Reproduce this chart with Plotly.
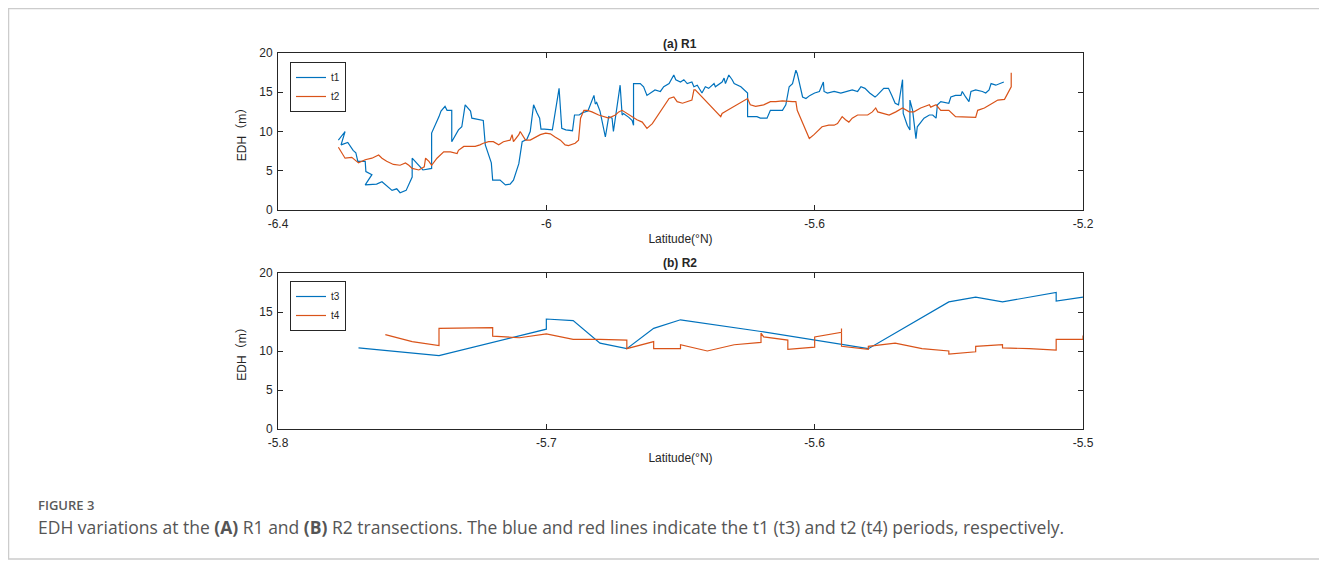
import plotly.graph_objects as go

# ---------------- data ----------------
# (a) R1 transect, t1 period
lat_t1 = [-6.310, -6.303, -6.300, -6.306, -6.296, -6.288, -6.284, -6.281, -6.270, -6.269,
          -6.260, -6.270, -6.253, -6.245, -6.238, -6.230, -6.223, -6.218, -6.209, -6.200,
          -6.200, -6.190, -6.184, -6.171, -6.171, -6.160, -6.157, -6.151, -6.148, -6.141,
          -6.141, -6.131, -6.126, -6.121, -6.113, -6.111, -6.100, -6.094, -6.091, -6.082,
          -6.080, -6.069, -6.061, -6.054, -6.049, -6.041, -6.036, -6.029, -6.024, -6.021,
          -6.019, -6.014, -6.010, -6.008, -6.003, -5.991, -5.981, -5.977, -5.971, -5.961,
          -5.958, -5.951, -5.946, -5.938, -5.929, -5.927, -5.925, -5.920, -5.912, -5.907,
          -5.902, -5.900, -5.890, -5.887, -5.885, -5.877, -5.872, -5.870, -5.870, -5.860,
          -5.855, -5.850, -5.845, -5.838, -5.830, -5.825, -5.817, -5.810, -5.807, -5.800,
          -5.795, -5.790, -5.783, -5.780, -5.775, -5.768, -5.763, -5.758, -5.750, -5.748,
          -5.738, -5.735, -5.733, -5.728, -5.723, -5.720, -5.710, -5.703, -5.700, -5.700,
          -5.686, -5.681, -5.671, -5.666, -5.648, -5.643, -5.638, -5.633, -5.628, -5.626,
          -5.618, -5.613, -5.607, -5.600, -5.593, -5.587, -5.586, -5.581, -5.571, -5.561,
          -5.551, -5.544, -5.536, -5.531, -5.525, -5.518, -5.510, -5.507, -5.497, -5.490,
          -5.485, -5.480, -5.475, -5.469, -5.468, -5.462, -5.458, -5.458, -5.454, -5.449,
          -5.447, -5.437, -5.429, -5.424, -5.419, -5.417, -5.412, -5.400, -5.397, -5.390,
          -5.382, -5.380, -5.375, -5.370, -5.367, -5.360, -5.350, -5.345, -5.340, -5.337,
          -5.330, -5.325, -5.318]
edh_t1 = [8.9, 9.6, 10.0, 8.3, 8.6, 7.6, 7.3, 6.2, 6.2, 4.9,
          4.5, 3.2, 3.3, 3.6, 3.1, 2.5, 2.7, 2.2, 2.5, 4.2,
          6.6, 5.7, 5.1, 5.3, 9.8, 11.9, 12.6, 13.2, 12.7, 12.7,
          8.7, 10.2, 10.6, 13.4, 12.6, 11.7, 11.5, 11.4, 8.3, 6.0,
          3.8, 3.8, 3.2, 3.3, 3.8, 5.9, 8.7, 9.0, 10.0, 12.1,
          13.4, 12.4, 11.7, 10.3, 10.3, 10.2, 15.5, 10.4, 10.2, 10.1,
          12.1, 12.1, 12.4, 12.6, 14.6, 13.5, 13.7, 12.6, 9.3, 11.9,
          11.7, 10.0, 15.9, 12.1, 12.3, 11.8, 11.4, 10.8, 16.1, 16.1,
          15.7, 14.6, 14.9, 15.3, 15.1, 15.7, 16.1, 17.2, 16.6, 16.3,
          16.6, 16.1, 16.3, 15.7, 15.9, 14.9, 15.7, 15.5, 16.1, 15.7,
          16.3, 16.8, 16.1, 17.2, 16.6, 16.1, 15.7, 15.1, 14.9, 11.9,
          11.9, 11.7, 11.7, 12.7, 12.7, 13.4, 15.7, 16.1, 17.8, 17.4,
          14.4, 14.2, 14.6, 14.9, 15.1, 16.3, 15.1, 14.9, 15.1, 14.9,
          15.1, 15.3, 15.1, 15.7, 15.5, 14.9, 14.4, 14.6, 15.5, 15.5,
          14.6, 13.6, 13.4, 16.6, 12.3, 10.8, 10.2, 14.0, 12.7, 9.1,
          10.6, 11.7, 12.1, 12.1, 11.7, 13.4, 13.8, 13.6, 14.4, 14.6,
          14.6, 15.1, 14.4, 13.8, 15.1, 15.3, 15.1, 14.9, 15.3, 16.1,
          15.9, 16.1, 16.3]

# (a) R1 transect, t2 period
lat_t2 = [-6.310, -6.305, -6.300, -6.290, -6.285, -6.280, -6.270, -6.260, -6.250, -6.245,
          -6.238, -6.228, -6.218, -6.210, -6.205, -6.200, -6.190, -6.182, -6.180, -6.175,
          -6.171, -6.163, -6.153, -6.143, -6.133, -6.131, -6.123, -6.116, -6.106, -6.099,
          -6.094, -6.086, -6.079, -6.071, -6.064, -6.054, -6.051, -6.049, -6.041, -6.039,
          -6.036, -6.031, -6.024, -6.016, -6.009, -6.001, -5.994, -5.987, -5.979, -5.972,
          -5.967, -5.957, -5.952, -5.949, -5.944, -5.939, -5.932, -5.922, -5.914, -5.907,
          -5.897, -5.892, -5.887, -5.872, -5.865, -5.857, -5.850, -5.842, -5.835, -5.827,
          -5.822, -5.817, -5.810, -5.805, -5.797, -5.790, -5.783, -5.780, -5.778, -5.740,
          -5.738, -5.730, -5.715, -5.700, -5.696, -5.688, -5.676, -5.666, -5.658, -5.648,
          -5.633, -5.628, -5.626, -5.608, -5.601, -5.589, -5.579, -5.571, -5.566, -5.559,
          -5.554, -5.549, -5.544, -5.536, -5.529, -5.521, -5.514, -5.509, -5.506, -5.499,
          -5.489, -5.479, -5.469, -5.459, -5.452, -5.442, -5.429, -5.427, -5.419, -5.412,
          -5.400, -5.390, -5.360, -5.357, -5.347, -5.335, -5.327, -5.317, -5.312, -5.307,
          -5.307]
edh_t2 = [8.0, 7.3, 6.6, 6.7, 6.4, 6.0, 6.4, 6.6, 7.0, 6.6,
          6.2, 5.8, 5.7, 6.0, 5.7, 5.3, 5.1, 5.5, 6.6, 6.2,
          5.7, 6.6, 7.4, 7.4, 7.2, 7.6, 8.1, 8.1, 8.1, 8.3,
          8.5, 8.7, 8.7, 8.3, 8.7, 8.9, 9.6, 8.7, 9.6, 10.0,
          9.6, 8.9, 8.9, 9.3, 9.6, 9.8, 9.7, 9.3, 8.9, 8.3,
          8.2, 8.5, 8.9, 11.7, 12.7, 12.7, 12.5, 12.1, 11.9, 11.7,
          12.1, 12.5, 12.7, 11.9, 11.5, 11.2, 10.4, 11.0, 11.9, 13.0,
          13.6, 14.2, 14.4, 13.8, 13.6, 13.8, 14.0, 15.3, 15.3, 11.9,
          12.3, 12.7, 13.4, 14.2, 13.4, 13.2, 13.4, 13.8, 13.8, 13.9,
          13.8, 13.8, 12.7, 9.1, 9.6, 10.6, 10.8, 10.8, 11.0, 11.9,
          11.5, 11.2, 11.7, 12.1, 12.1, 12.1, 12.5, 13.0, 12.5, 12.3,
          12.1, 12.5, 13.0, 12.5, 12.5, 13.0, 13.4, 13.1, 13.4, 12.7,
          12.7, 11.9, 11.8, 12.7, 13.0, 13.6, 14.0, 14.1, 14.9, 15.7,
          17.5]

# (b) R2 transect, t3 period
lat_t3 = [-5.770, -5.740, -5.700, -5.700, -5.690, -5.680, -5.670, -5.660, -5.650, -5.620,
          -5.580, -5.550, -5.540, -5.530, -5.510, -5.510, -5.500]
edh_t3 = [10.4, 9.4, 12.8, 14.1, 13.9, 11.0, 10.3, 12.9, 14.0, 12.5,
          10.3, 16.3, 16.9, 16.3, 17.5, 16.4, 16.9]

# (b) R2 transect, t4 period
lat_t4 = [-5.760, -5.750, -5.740, -5.740, -5.720, -5.720, -5.710, -5.700, -5.690, -5.680,
          -5.670, -5.670, -5.660, -5.660, -5.650, -5.650, -5.640, -5.630, -5.620, -5.620,
          -5.619, -5.610, -5.610, -5.600, -5.600, -5.590, -5.590, -5.590, -5.580, -5.580,
          -5.570, -5.560, -5.550, -5.550, -5.540, -5.540, -5.530, -5.530, -5.520, -5.510,
          -5.510, -5.500, -5.500]
edh_t4 = [12.1, 11.2, 10.7, 12.9, 13.0, 11.9, 11.7, 12.2, 11.5, 11.5,
          11.4, 10.3, 11.2, 10.3, 10.3, 10.8, 10.0, 10.8, 11.1, 12.3,
          11.8, 11.4, 10.2, 10.5, 11.8, 12.4, 12.9, 10.6, 10.2, 10.6,
          11.0, 10.3, 10.0, 9.6, 9.9, 10.6, 10.8, 10.4, 10.3, 10.1,
          11.5, 11.5, 12.0]

ticks_top = [-6.4, -6.0, -5.6, -5.2]
ticklabels_top = ["-6.4", "-6", "-5.6", "-5.2"]
ticks_bot = [-5.8, -5.7, -5.6, -5.5]
ticklabels_bot = ["-5.8", "-5.7", "-5.6", "-5.5"]
yticks = [0, 5, 10, 15, 20]

BLUE = "#0072BD"
ORANGE = "#D95319"
AXC = "#262626"
W, H = 1327, 563
OFF = 8  # page body margin: screen pixel = figure pixel + OFF

def px_x(p):
    return (p - OFF) / W

def px_y(p):
    return 1 - (p - OFF) / H

fig = go.Figure()
fig.add_trace(go.Scatter(x=lat_t1, y=edh_t1, mode="lines", name="t1",
                         line=dict(color=BLUE, width=1.2), xaxis="x", yaxis="y", legend="legend"))
fig.add_trace(go.Scatter(x=lat_t2, y=edh_t2, mode="lines", name="t2",
                         line=dict(color=ORANGE, width=1.2), xaxis="x", yaxis="y", legend="legend"))
fig.add_trace(go.Scatter(x=lat_t3, y=edh_t3, mode="lines", name="t3",
                         line=dict(color=BLUE, width=1.2), xaxis="x2", yaxis="y2", legend="legend2"))
fig.add_trace(go.Scatter(x=lat_t4, y=edh_t4, mode="lines", name="t4",
                         line=dict(color=ORANGE, width=1.2), xaxis="x2", yaxis="y2", legend="legend2"))

tickfont = dict(family="Liberation Sans, Arial, sans-serif", size=12, color=AXC)
titlefont = dict(family="Liberation Sans, Arial, Noto Sans CJK SC, sans-serif", size=12, color=AXC)

axis_common = dict(showline=True, linecolor=AXC, linewidth=1, mirror="ticks", ticks="inside",
                   ticklen=5, tickcolor=AXC, showgrid=False, zeroline=False, tickfont=tickfont,
                   automargin=False)

xdom = [px_x(278), px_x(1083)]
fig.update_layout(
    width=W, height=H,
    margin=dict(l=0, r=0, t=0, b=0, autoexpand=False),
    paper_bgcolor="white", plot_bgcolor="white",
    xaxis=dict(domain=xdom, range=[-6.4, -5.2], tickvals=ticks_top, ticktext=ticklabels_top,
               anchor="y", ticklabelstandoff=3,
               title=dict(text="Latitude(°N)", font=titlefont, standoff=4), **axis_common),
    yaxis=dict(domain=[px_y(210), px_y(53)], range=[0, 20], tickvals=yticks, anchor="x",
               ticklabelstandoff=2,
               title=dict(text="EDH（m）", font=titlefont, standoff=10), **axis_common),
    xaxis2=dict(domain=xdom, range=[-5.8, -5.5], tickvals=ticks_bot, ticktext=ticklabels_bot,
                anchor="y2", ticklabelstandoff=3,
                title=dict(text="Latitude(°N)", font=titlefont, standoff=4), **axis_common),
    yaxis2=dict(domain=[px_y(429), px_y(273)], range=[0, 20], tickvals=yticks, anchor="x2",
                ticklabelstandoff=2,
                title=dict(text="EDH（m）", font=titlefont, standoff=10), **axis_common),
    legend=dict(x=px_x(290), y=px_y(62), xanchor="left", yanchor="top", bgcolor="white",
                bordercolor=AXC, borderwidth=1, font=dict(family="Liberation Sans, Arial", size=10, color=AXC),
                tracegroupgap=0, itemwidth=30),
    legend2=dict(x=px_x(290), y=px_y(281), xanchor="left", yanchor="top", bgcolor="white",
                 bordercolor=AXC, borderwidth=1, font=dict(family="Liberation Sans, Arial", size=10, color=AXC),
                 tracegroupgap=0, itemwidth=30),
    showlegend=True,
)

annots = [
    dict(text="<b>(a) R1</b>", x=(xdom[0] + xdom[1]) / 2, y=px_y(44), xref="paper", yref="paper",
         xanchor="center", yanchor="middle",
         showarrow=False, font=dict(family="Liberation Sans, Arial", size=12, color=AXC)),
    dict(text="<b>(b) R2</b>", x=(xdom[0] + xdom[1]) / 2, y=px_y(263), xref="paper", yref="paper",
         xanchor="center", yanchor="middle",
         showarrow=False, font=dict(family="Liberation Sans, Arial", size=12, color=AXC)),
    dict(text="FIGURE 3", x=px_x(36), y=px_y(504.5), xref="paper", yref="paper", xanchor="left",
         yanchor="middle",
         showarrow=False, font=dict(family="Open Sans, Lato, sans-serif", size=13, color="#5a5a5a", weight=600)),
    dict(text="EDH variations at the <b>(A)</b> R1 and <b>(B)</b> R2 transections. The blue and red lines "
              "indicate the t1 (t3) and t2 (t4) periods, respectively.",
         x=px_x(36), y=px_y(527), xref="paper", yref="paper", xanchor="left", yanchor="middle",
         showarrow=False, font=dict(family="Open Sans, Lato, sans-serif", size=17.5, color="#555555")),
]
fig.update_layout(annotations=annots)

fig.add_shape(type="rect", xref="paper", yref="paper",
              x0=px_x(8.5), x1=px_x(1325), y0=px_y(559), y1=px_y(8.5),
              line=dict(color="#cccccc", width=1.5), fillcolor="rgba(0,0,0,0)", layer="below")

fig.write_html("out.html")
